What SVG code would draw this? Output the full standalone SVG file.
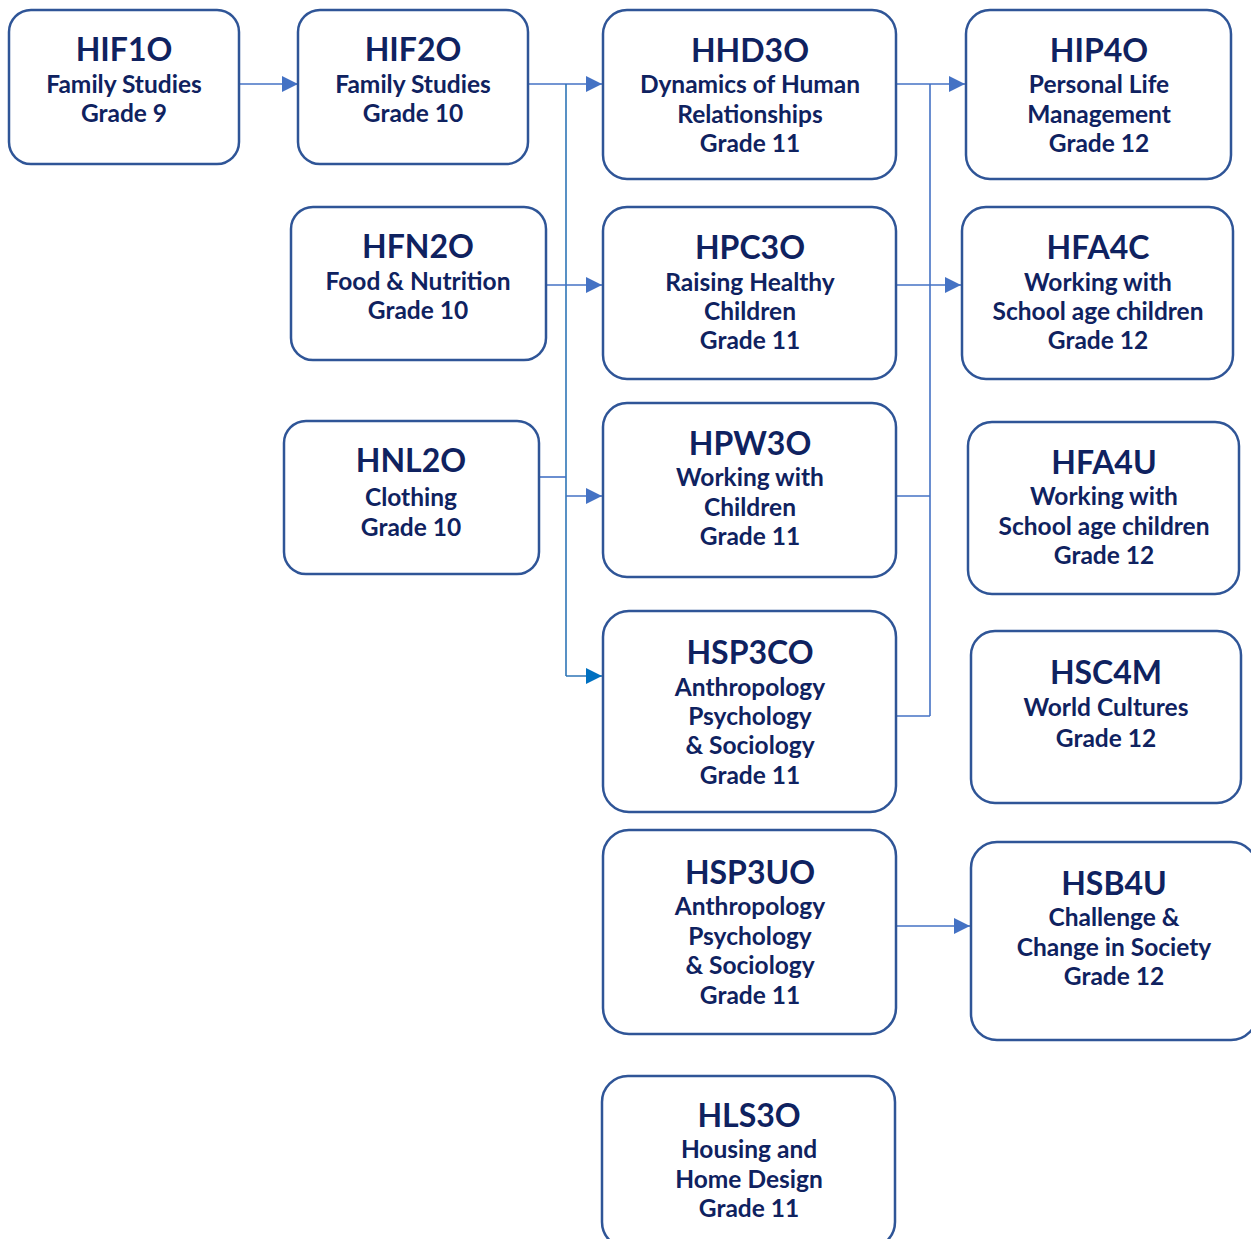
<svg xmlns="http://www.w3.org/2000/svg" width="1251" height="1239" viewBox="0 0 1251 1239">
  <style>
    .box { fill: #ffffff; stroke: #2f5597; stroke-width: 2.5; }
    .title { font-family: "Lato", "Liberation Sans", sans-serif; font-weight: bold; font-size: 32px; fill: #0f2260; text-anchor: middle; }
    .sub { font-family: "Lato", "Liberation Sans", sans-serif; font-weight: bold; font-size: 24.5px; fill: #0f2260; text-anchor: middle; }
    .link { fill: none; stroke: #4472c4; stroke-width: 1.6; }
  </style>
  <defs>
    <marker id="arrow" viewBox="0 0 10 10" refX="10" refY="5" markerWidth="16" markerHeight="16" markerUnits="userSpaceOnUse" orient="auto">
      <path d="M0,0 L10,5 L0,10 Z" fill="#4472c4"/>
    </marker>
    <marker id="arrowDark" viewBox="0 0 10 10" refX="10" refY="5" markerWidth="16" markerHeight="16" markerUnits="userSpaceOnUse" orient="auto">
      <path d="M0,0 L10,5 L0,10 Z" fill="#0070c0"/>
    </marker>
  </defs>

  <!-- connectors -->
  <g id="connectors">
    <path class="link" d="M239,84 H298" marker-end="url(#arrow)"/>
    <path class="link" d="M528,84 H602" marker-end="url(#arrow)"/>
    <path class="link" d="M566,84 V676" style="stroke:#2e75b6"/>
    <path class="link" d="M566,676 H602" style="stroke:#2e75b6" marker-end="url(#arrowDark)"/>
    <path class="link" d="M546,285 H602" marker-end="url(#arrow)"/>
    <path class="link" d="M539,477 H566"/>
    <path class="link" d="M566,496 H602" marker-end="url(#arrow)"/>
    <path class="link" d="M896,84 H965" marker-end="url(#arrow)"/>
    <path class="link" d="M930,84 V716"/>
    <path class="link" d="M896,285 H961" marker-end="url(#arrow)"/>
    <path class="link" d="M896,496 H930"/>
    <path class="link" d="M896,716 H930"/>
    <path class="link" d="M896,926 H970" marker-end="url(#arrow)"/>
  </g>

  <g id="HIF1O">
    <rect class="box" x="9" y="10" width="230" height="154" rx="22"/>
    <text class="title" x="124" y="61">HIF1O</text>
    <text class="sub" x="124" y="93">Family Studies</text>
    <text class="sub" x="124" y="122">Grade 9</text>
  </g>

  <g id="HIF2O">
    <rect class="box" x="298" y="10" width="230" height="154" rx="22"/>
    <text class="title" x="413" y="61">HIF2O</text>
    <text class="sub" x="413" y="93">Family Studies</text>
    <text class="sub" x="413" y="122">Grade 10</text>
  </g>

  <g id="HHD3O">
    <rect class="box" x="603" y="10" width="293" height="169" rx="24"/>
    <text class="title" x="750" y="62">HHD3O</text>
    <text class="sub" x="750" y="93">Dynamics of Human</text>
    <text class="sub" x="750" y="123">Relationships</text>
    <text class="sub" x="750" y="152">Grade 11</text>
  </g>

  <g id="HIP4O">
    <rect class="box" x="966" y="10" width="265" height="169" rx="24"/>
    <text class="title" x="1099" y="62">HIP4O</text>
    <text class="sub" x="1099" y="93">Personal Life</text>
    <text class="sub" x="1099" y="123">Management</text>
    <text class="sub" x="1099" y="152">Grade 12</text>
  </g>

  <g id="HFN2O">
    <rect class="box" x="291" y="207" width="255" height="153" rx="22"/>
    <text class="title" x="418" y="258">HFN2O</text>
    <text class="sub" x="418" y="290">Food &amp; Nutrition</text>
    <text class="sub" x="418" y="319">Grade 10</text>
  </g>

  <g id="HPC3O">
    <rect class="box" x="603" y="207" width="293" height="172" rx="24"/>
    <text class="title" x="750" y="259">HPC3O</text>
    <text class="sub" x="750" y="291">Raising Healthy</text>
    <text class="sub" x="750" y="320">Children</text>
    <text class="sub" x="750" y="349">Grade 11</text>
  </g>

  <g id="HFA4C">
    <rect class="box" x="962" y="207" width="271" height="172" rx="24"/>
    <text class="title" x="1098" y="259">HFA4C</text>
    <text class="sub" x="1098" y="291">Working with</text>
    <text class="sub" x="1098" y="320">School age children</text>
    <text class="sub" x="1098" y="349">Grade 12</text>
  </g>

  <g id="HNL2O">
    <rect class="box" x="284" y="421" width="255" height="153" rx="22"/>
    <text class="title" x="411" y="472">HNL2O</text>
    <text class="sub" x="411" y="506">Clothing</text>
    <text class="sub" x="411" y="536">Grade 10</text>
  </g>

  <g id="HPW3O">
    <rect class="box" x="603" y="403" width="293" height="174" rx="24"/>
    <text class="title" x="750" y="455">HPW3O</text>
    <text class="sub" x="750" y="486">Working with</text>
    <text class="sub" x="750" y="516">Children</text>
    <text class="sub" x="750" y="545">Grade 11</text>
  </g>

  <g id="HFA4U">
    <rect class="box" x="968" y="422" width="271" height="172" rx="24"/>
    <text class="title" x="1104" y="474">HFA4U</text>
    <text class="sub" x="1104" y="505">Working with</text>
    <text class="sub" x="1104" y="535">School age children</text>
    <text class="sub" x="1104" y="564">Grade 12</text>
  </g>

  <g id="HSP3CO">
    <rect class="box" x="603" y="611" width="293" height="201" rx="26"/>
    <text class="title" x="750" y="664">HSP3CO</text>
    <text class="sub" x="750" y="696">Anthropology</text>
    <text class="sub" x="750" y="725">Psychology</text>
    <text class="sub" x="750" y="754">&amp; Sociology</text>
    <text class="sub" x="750" y="784">Grade 11</text>
  </g>

  <g id="HSC4M">
    <rect class="box" x="971" y="631" width="270" height="172" rx="24"/>
    <text class="title" x="1106" y="684">HSC4M</text>
    <text class="sub" x="1106" y="716">World Cultures</text>
    <text class="sub" x="1106" y="747">Grade 12</text>
  </g>

  <g id="HSP3UO">
    <rect class="box" x="603" y="830" width="293" height="204" rx="26"/>
    <text class="title" x="750" y="884">HSP3UO</text>
    <text class="sub" x="750" y="915">Anthropology</text>
    <text class="sub" x="750" y="945">Psychology</text>
    <text class="sub" x="750" y="974">&amp; Sociology</text>
    <text class="sub" x="750" y="1004">Grade 11</text>
  </g>

  <g id="HSB4U">
    <rect class="box" x="971" y="842" width="286" height="198" rx="26"/>
    <text class="title" x="1114" y="895">HSB4U</text>
    <text class="sub" x="1114" y="926">Challenge &amp;</text>
    <text class="sub" x="1114" y="956">Change in Society</text>
    <text class="sub" x="1114" y="985">Grade 12</text>
  </g>

  <g id="HLS3O">
    <rect class="box" x="602" y="1076" width="293" height="172" rx="26"/>
    <text class="title" x="749" y="1127">HLS3O</text>
    <text class="sub" x="749" y="1158">Housing and</text>
    <text class="sub" x="749" y="1188">Home Design</text>
    <text class="sub" x="749" y="1217">Grade 11</text>
  </g>
</svg>
